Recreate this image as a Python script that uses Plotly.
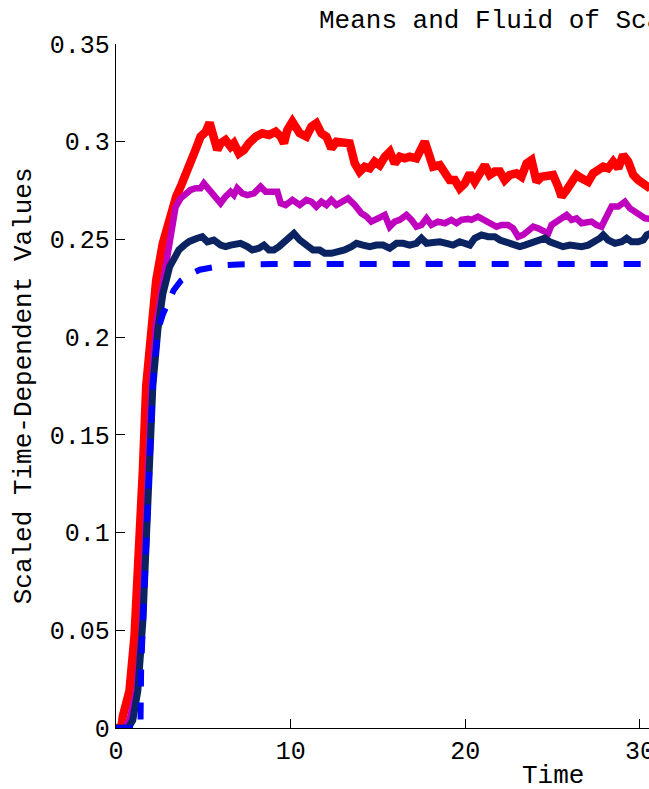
import plotly.graph_objects as go

# ---- data -------------------------------------------------------------
red_t = [0, 0.3, 0.39, 0.77, 1.06, 1.35, 1.54, 1.73, 2.02, 2.3, 2.68, 3.07, 3.45, 3.75, 4.05, 4.35,
         4.56, 4.84, 5.13, 5.36, 5.6, 5.8, 5.99, 6.27, 6.56, 6.75, 7.04, 7.33, 7.61, 8.0, 8.38, 8.76,
         9.14, 9.43, 9.62, 9.81, 10.1, 10.52, 10.9, 11.19, 11.47, 11.76, 12.05, 12.33, 12.62, 13.0,
         13.38, 13.67, 13.95, 14.24, 14.53, 14.81, 15.1, 15.39, 15.68, 15.96, 16.25, 16.53, 16.82,
         17.2, 17.49, 17.68, 17.87, 18.15, 18.54, 18.82, 19.11, 19.4, 19.68, 19.97, 20.26, 20.54,
         20.83, 21.12, 21.4, 21.69, 21.98, 22.26, 22.55, 22.93, 23.22, 23.51, 23.79, 24.08, 24.37,
         24.75, 25.03, 25.32, 25.51, 25.8, 26.09, 26.37, 26.66, 27.04, 27.32, 27.61, 27.9, 28.18,
         28.47, 28.76, 29.04, 29.33, 29.62, 29.9, 30.19, 30.4, 30.6]
red_v = [0, 0, 0.006, 0.019, 0.047, 0.089, 0.132, 0.175, 0.205, 0.229, 0.248, 0.262, 0.272, 0.278,
         0.284, 0.290, 0.296, 0.3026, 0.305, 0.3097, 0.3026, 0.2958, 0.2992, 0.3009, 0.2975, 0.2992,
         0.294, 0.2958, 0.2992, 0.3026, 0.3043, 0.3034, 0.3051, 0.3026, 0.2992, 0.306, 0.3102,
         0.3043, 0.3026, 0.3077, 0.3094, 0.3043, 0.3026, 0.2966, 0.300, 0.300, 0.2992, 0.2889,
         0.2847, 0.2872, 0.2864, 0.2898, 0.288, 0.2923, 0.2949, 0.2889, 0.2923, 0.2915, 0.2923,
         0.2915, 0.2975, 0.300, 0.2949, 0.2872, 0.288, 0.2838, 0.2804, 0.2804, 0.2762, 0.2787,
         0.2838, 0.2795, 0.283, 0.288, 0.283, 0.2847, 0.2847, 0.2804, 0.283, 0.2838, 0.2821,
         0.2889, 0.2906, 0.2795, 0.2821, 0.2821, 0.283, 0.277, 0.2719, 0.2753, 0.2795, 0.283,
         0.2813, 0.2795, 0.2838, 0.2855, 0.2872, 0.2864, 0.2898, 0.2864, 0.2932, 0.2898, 0.283,
         0.2804, 0.2787, 0.2762, 0.276]

mag_t = [0, 0.5, 0.77, 1.16, 1.44, 1.63, 1.82, 2.02, 2.3, 2.68, 3.07, 3.41, 3.7, 3.98, 4.27, 4.56,
         4.84, 5.03, 5.32, 5.6, 5.99, 6.27, 6.56, 6.75, 6.94, 7.23, 7.52, 7.9, 8.28, 8.57, 8.95,
         9.24, 9.43, 9.71, 10.1, 10.52, 10.9, 11.19, 11.47, 11.76, 12.05, 12.33, 12.62, 13.0, 13.28,
         13.67, 14.05, 14.34, 14.62, 15.0, 15.39, 15.67, 15.96, 16.25, 16.63, 16.92, 17.2, 17.49,
         17.78, 18.06, 18.44, 18.83, 19.2, 19.5, 19.78, 20.16, 20.35, 20.73, 21.12, 21.5, 21.79,
         22.07, 22.45, 22.74, 23.03, 23.31, 23.6, 23.89, 24.17, 24.46, 24.75, 24.94, 25.23, 25.51,
         25.8, 26.09, 26.37, 26.66, 26.94, 27.23, 27.52, 27.8, 28.09, 28.38, 28.76, 29.14, 29.43,
         29.71, 30.0, 30.29, 30.6]
mag_v = [0, 0, 0.004, 0.019, 0.047, 0.089, 0.132, 0.175, 0.207, 0.229, 0.248, 0.2665, 0.271,
         0.2736, 0.2753, 0.2762, 0.2762, 0.2787, 0.2753, 0.2727, 0.2685, 0.2719, 0.2744, 0.2727,
         0.2762, 0.2736, 0.2727, 0.2736, 0.277, 0.2744, 0.2744, 0.2744, 0.2685, 0.2676, 0.2702,
         0.2676, 0.2702, 0.2693, 0.2668, 0.2693, 0.2676, 0.2702, 0.2676, 0.2693, 0.271, 0.2676,
         0.2634, 0.2617, 0.2591, 0.2608, 0.2625, 0.2565, 0.2591, 0.26, 0.2625, 0.26, 0.2565,
         0.2574, 0.2608, 0.2574, 0.2591, 0.2583, 0.26, 0.2583, 0.26, 0.2605, 0.26, 0.2617, 0.26,
         0.2583, 0.2565, 0.2574, 0.2574, 0.2557, 0.2514, 0.2523, 0.254, 0.2565, 0.2557, 0.254,
         0.2531, 0.2574, 0.2591, 0.2608, 0.2625, 0.26, 0.2608, 0.2583, 0.2583, 0.2591, 0.2574,
         0.2565, 0.2617, 0.2668, 0.2668, 0.2693, 0.2659, 0.2642, 0.2634, 0.2608, 0.2605]

navy_t = [0, 0.7, 0.96, 1.25, 1.54, 1.73, 1.92, 2.11, 2.4, 2.68, 3.07, 3.3, 3.6, 3.9, 4.2, 4.65,
          4.94, 5.23, 5.6, 5.99, 6.27, 6.56, 6.85, 7.13, 7.52, 7.8, 8.18, 8.47, 8.76, 9.04, 9.33,
          9.62, 9.9, 10.19, 10.52, 10.9, 11.28, 11.66, 11.95, 12.33, 12.71, 13.09, 13.48, 13.77,
          14.14, 14.53, 14.91, 15.29, 15.67, 16.06, 16.44, 16.82, 17.2, 17.49, 17.78, 18.15, 18.54,
          18.92, 19.3, 19.68, 20.07, 20.26, 20.54, 20.93, 21.31, 21.69, 21.98, 22.36, 22.74, 23.12,
          23.41, 23.79, 24.17, 24.56, 24.84, 25.23, 25.6, 25.99, 26.37, 26.66, 27.04, 27.42, 27.71,
          27.9, 28.18, 28.57, 28.95, 29.24, 29.52, 29.9, 30.19, 30.4, 30.6]
navy_v = [0, 0, 0.004, 0.019, 0.055, 0.098, 0.141, 0.175, 0.204, 0.222, 0.236, 0.240, 0.2446,
          0.247, 0.249, 0.2506, 0.2514, 0.2488, 0.2497, 0.2471, 0.2463, 0.2471, 0.248, 0.248,
          0.2463, 0.2446, 0.2455, 0.2471, 0.2446, 0.2446, 0.2463, 0.2488, 0.2506, 0.2531, 0.2497,
          0.2471, 0.2446, 0.2446, 0.2429, 0.2429, 0.2437, 0.2446, 0.2463, 0.248, 0.2471, 0.2463,
          0.2471, 0.2471, 0.2455, 0.248, 0.248, 0.2471, 0.248, 0.2506, 0.248, 0.2488, 0.2488,
          0.248, 0.2471, 0.2488, 0.248, 0.2471, 0.2506, 0.2523, 0.2514, 0.2514, 0.2497, 0.2488,
          0.2471, 0.2463, 0.2471, 0.248, 0.2497, 0.2506, 0.2488, 0.2471, 0.2463, 0.2471, 0.2463,
          0.2463, 0.2471, 0.2488, 0.2506, 0.2523, 0.2497, 0.248, 0.2488, 0.2506, 0.2488, 0.2488,
          0.2497, 0.2523, 0.253]

fluid_t = [0, 1.4, 1.44, 1.6, 1.73, 1.82, 1.95, 2.11, 2.24, 2.4, 2.7, 2.95, 3.3, 3.73, 4.2, 4.8,
           5.5, 6.2, 7.0, 8.0, 9.0, 30.6]
fluid_v = [0, 0, 0.031, 0.0655, 0.096, 0.125, 0.152, 0.1747, 0.188, 0.2037, 0.212, 0.2173, 0.224,
           0.229, 0.232, 0.2345, 0.236, 0.2368, 0.2372, 0.2374, 0.2374, 0.2374]

y_ticks = [0, 0.05, 0.1, 0.15, 0.2, 0.25, 0.3, 0.35]
y_tick_text = ["0", "0.05", "0.1", "0.15", "0.2", "0.25", "0.3", "0.35"]
x_ticks = [0, 10, 20, 30]

FONT = "Courier New, Liberation Mono, monospace"

fig = go.Figure()
fig.add_trace(go.Scatter(x=red_t, y=red_v, mode="lines",
                         line=dict(color="#FF0000", width=8.5)))
fig.add_trace(go.Scatter(x=mag_t, y=mag_v, mode="lines",
                         line=dict(color="#BF00BF", width=6.5)))
fig.add_trace(go.Scatter(x=navy_t, y=navy_v, mode="lines",
                         line=dict(color="#0B2461", width=7)))
fig.add_trace(go.Scatter(x=fluid_t, y=fluid_v, mode="lines",
                         line=dict(color="#0000FF", width=6, dash="17px,16px")))

axis_common = dict(
    showgrid=False, zeroline=False, showline=True, linecolor="black", linewidth=1.3,
    ticks="inside", ticklen=9, tickwidth=1.2, tickcolor="black",
    ticklabeloverflow="allow", automargin=False,
    tickfont=dict(family=FONT, size=25, color="black"),
)
fig.update_xaxes(range=[0, 30.52], tickvals=x_ticks, **axis_common)
fig.update_yaxes(range=[0, 0.35], tickvals=y_ticks, ticktext=y_tick_text, **axis_common)

label_font = dict(family=FONT, size=26, color="black")
fig.update_layout(
    width=649, height=789,
    margin=dict(l=116, r=0, t=44, b=61, autoexpand=False),
    paper_bgcolor="white", plot_bgcolor="white",
    showlegend=False,
    annotations=[
        dict(text="Means and Fluid of Scaled Data", xref="x", x=25, yref="paper", y=1.034,
             xanchor="center", yanchor="middle", showarrow=False, font=label_font),
        dict(text="Time", xref="x", x=25, yref="paper", y=-0.07,
             xanchor="center", yanchor="middle", showarrow=False, font=label_font),
        dict(text="Scaled Time-Dependent Values", xref="paper", x=-0.172, yref="paper", y=0.5,
             xanchor="center", yanchor="middle", textangle=-90, showarrow=False, font=label_font),
    ],
)

fig.write_html("out.html")
